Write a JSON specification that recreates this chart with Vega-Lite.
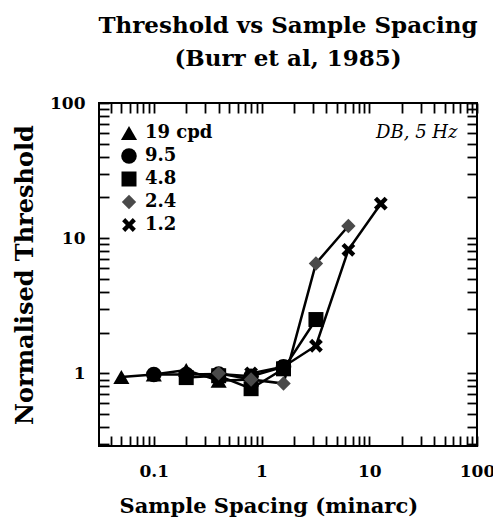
{
  "$schema": "https://vega.github.io/schema/vega-lite/v6.json",
  "width": 378,
  "height": 343,
  "autosize": "none",
  "padding": {"left": 99, "top": 103, "right": 16, "bottom": 77},
  "background": "white",
  "config": {
    "view": {"stroke": "black", "strokeWidth": 2},
    "font": "DejaVu Serif"
  },
  "title": {
    "text": ["Threshold vs Sample Spacing", "(Burr et al, 1985)"],
    "font": "DejaVu Serif",
    "fontSize": 23,
    "fontWeight": "bold",
    "lineHeight": 33,
    "anchor": "middle",
    "offset": 23,
    "color": "black"
  },
  "data": {
    "values": [
      {"sf": "19 cpd", "spacing": 0.05, "threshold": 0.94},
      {"sf": "19 cpd", "spacing": 0.1, "threshold": 0.98},
      {"sf": "19 cpd", "spacing": 0.2, "threshold": 1.06},
      {"sf": "19 cpd", "spacing": 0.4, "threshold": 0.88},
      {"sf": "19 cpd", "spacing": 0.8, "threshold": 0.9},
      {"sf": "9.5", "spacing": 0.1, "threshold": 0.98},
      {"sf": "9.5", "spacing": 0.2, "threshold": 0.98},
      {"sf": "9.5", "spacing": 0.4, "threshold": 0.99},
      {"sf": "9.5", "spacing": 0.8, "threshold": 0.95},
      {"sf": "9.5", "spacing": 1.6, "threshold": 1.12},
      {"sf": "1.2", "spacing": 0.8, "threshold": 1.0},
      {"sf": "1.2", "spacing": 1.6, "threshold": 1.12},
      {"sf": "1.2", "spacing": 3.2, "threshold": 1.6},
      {"sf": "1.2", "spacing": 6.4, "threshold": 8.2},
      {"sf": "1.2", "spacing": 12.8, "threshold": 18},
      {"sf": "4.8", "spacing": 0.2, "threshold": 0.93},
      {"sf": "4.8", "spacing": 0.4, "threshold": 0.96},
      {"sf": "4.8", "spacing": 0.8, "threshold": 0.77},
      {"sf": "4.8", "spacing": 1.6, "threshold": 1.08},
      {"sf": "4.8", "spacing": 3.2, "threshold": 2.5},
      {"sf": "2.4", "spacing": 0.4, "threshold": 1.0},
      {"sf": "2.4", "spacing": 0.8, "threshold": 0.9},
      {"sf": "2.4", "spacing": 1.6, "threshold": 0.84},
      {"sf": "2.4", "spacing": 3.2, "threshold": 6.5},
      {"sf": "2.4", "spacing": 6.4, "threshold": 12.3}
    ]
  },
  "layer": [
    {
      "mark": {"type": "line", "stroke": "black", "strokeWidth": 2.5},
      "encoding": {
        "x": {
          "field": "spacing", "type": "quantitative",
          "scale": {"type": "log", "domain": [0.031, 100], "nice": false},
          "axis": {
            "orient": "bottom",
            "title": "Sample Spacing (minarc)",
            "titleFont": "DejaVu Serif", "titleFontSize": 21, "titleFontWeight": "bold", "titleColor": "black",
            "titlePadding": 16, "titleX": 20, "titleAlign": "left", "titleAnchor": "start",
            "values": [0.04,0.05,0.06,0.07,0.08,0.09,0.1,0.2,0.3,0.4,0.5,0.6,0.7,0.8,0.9,1,2,3,4,5,6,7,8,9,10,20,30,40,50,60,70,80,90,100],
            "labelExpr": "indexof([0.1,1,10,100], datum.value) >= 0 ? format(datum.value, '~g') : ''",
            "labelFont": "DejaVu Serif", "labelFontSize": 17, "labelFontWeight": "bold", "labelColor": "black", "labelPadding": 27,
            "labelFlush": false, "labelOverlap": false,
            "tickColor": "black", "tickWidth": 1.8, "tickSize": -10,
            "encode": {"ticks": {"update": {"y2": {"signal": "indexof([0.1,1,10,100], datum.value) >= 0 ? -10 : -6"}}}},
            "domain": false, "grid": false
          }
        },
        "y": {
          "field": "threshold", "type": "quantitative",
          "scale": {"type": "log", "domain": [0.29, 100], "nice": false},
          "axis": {
            "orient": "left",
            "title": "Normalised Threshold",
            "titleFont": "DejaVu Serif", "titleFontSize": 24, "titleFontWeight": "bold", "titleColor": "black",
            "titlePadding": 12,
            "values": [0.3,0.4,0.5,0.6,0.7,0.8,0.9,1,2,3,4,5,6,7,8,9,10,20,30,40,50,60,70,80,90,100],
            "labelExpr": "indexof([1,10,100], datum.value) >= 0 ? format(datum.value, '~g') : ''",
            "labelFont": "DejaVu Serif", "labelFontSize": 17, "labelFontWeight": "bold", "labelColor": "black", "labelPadding": 24,
            "labelFlush": false, "labelOverlap": false,
            "tickColor": "black", "tickWidth": 1.8, "tickSize": -10,
            "encode": {"ticks": {"update": {"x2": {"signal": "indexof([1,10,100], datum.value) >= 0 ? 10 : 6"}}}},
            "domain": false, "grid": false
          }
        },
        "detail": {"field": "sf"}
      }
    },
    {
      "mark": {"type": "point", "filled": true, "opacity": 1, "strokeWidth": 0},
      "encoding": {
        "x": {
          "field": "spacing", "type": "quantitative",
          "axis": {
            "orient": "top", "title": null, "labels": false,
            "values": [0.04,0.05,0.06,0.07,0.08,0.09,0.1,0.2,0.3,0.4,0.5,0.6,0.7,0.8,0.9,1,2,3,4,5,6,7,8,9,10,20,30,40,50,60,70,80,90,100],
            "tickColor": "black", "tickWidth": 1.8, "tickSize": -10,
            "encode": {"ticks": {"update": {"y2": {"signal": "indexof([0.1,1,10,100], datum.value) >= 0 ? 10 : 6"}}}},
            "domain": false, "grid": false
          }
        },
        "y": {
          "field": "threshold", "type": "quantitative",
          "axis": {
            "orient": "right", "title": null, "labels": false,
            "values": [0.3,0.4,0.5,0.6,0.7,0.8,0.9,1,2,3,4,5,6,7,8,9,10,20,30,40,50,60,70,80,90,100],
            "tickColor": "black", "tickWidth": 1.8, "tickSize": -10,
            "encode": {"ticks": {"update": {"x2": {"signal": "indexof([1,10,100], datum.value) >= 0 ? -10 : -6"}}}},
            "domain": false, "grid": false
          }
        },
        "shape": {
          "field": "sf", "type": "nominal",
          "scale": {
            "domain": ["19 cpd", "9.5", "4.8", "2.4", "1.2"],
            "range": ["triangle-up", "circle", "square", "diamond", "M-1,-0.55L-0.55,-1L0,-0.45L0.55,-1L1,-0.55L0.45,0L1,0.55L0.55,1L0,0.45L-0.55,1L-1,0.55L-0.45,0Z"]
          },
          "legend": {
            "orient": "top-left", "title": null, "offset": 18, "padding": 3,
            "labelFont": "DejaVu Serif", "labelFontSize": 18, "labelFontWeight": "bold", "labelColor": "black",
            "labelOffset": 7, "rowPadding": 5, "symbolStrokeWidth": 0
          }
        },
        "fill": {
          "field": "sf", "type": "nominal",
          "scale": {
            "domain": ["19 cpd", "9.5", "4.8", "2.4", "1.2"],
            "range": ["black", "black", "black", "#4a4a4a", "black"]
          },
          "legend": {
            "orient": "top-left", "title": null, "offset": 18, "padding": 3,
            "labelFont": "DejaVu Serif", "labelFontSize": 18, "labelFontWeight": "bold", "labelColor": "black",
            "labelOffset": 7, "rowPadding": 5, "symbolStrokeWidth": 0
          }
        },
        "size": {
          "field": "sf", "type": "nominal",
          "scale": {
            "domain": ["19 cpd", "9.5", "4.8", "2.4", "1.2"],
            "range": [260, 190, 170, 240, 220]
          },
          "legend": {
            "orient": "top-left", "title": null, "offset": 18, "padding": 3,
            "labelFont": "DejaVu Serif", "labelFontSize": 18, "labelFontWeight": "bold", "labelColor": "black",
            "labelOffset": 7, "rowPadding": 5, "symbolStrokeWidth": 0
          }
        }
      }
    },
    {
      "data": {"values": [{"note": "DB, 5 Hz"}]},
      "mark": {"type": "text", "font": "DejaVu Serif", "fontStyle": "italic", "fontSize": 18, "align": "right", "baseline": "middle", "color": "black"},
      "encoding": {
        "text": {"field": "note"},
        "x": {"datum": 66, "type": "quantitative", "axis": null},
        "y": {"datum": 60, "type": "quantitative", "axis": null}
      }
    }
  ],
  "resolve": {"axis": {"x": "independent", "y": "independent"}}
}
